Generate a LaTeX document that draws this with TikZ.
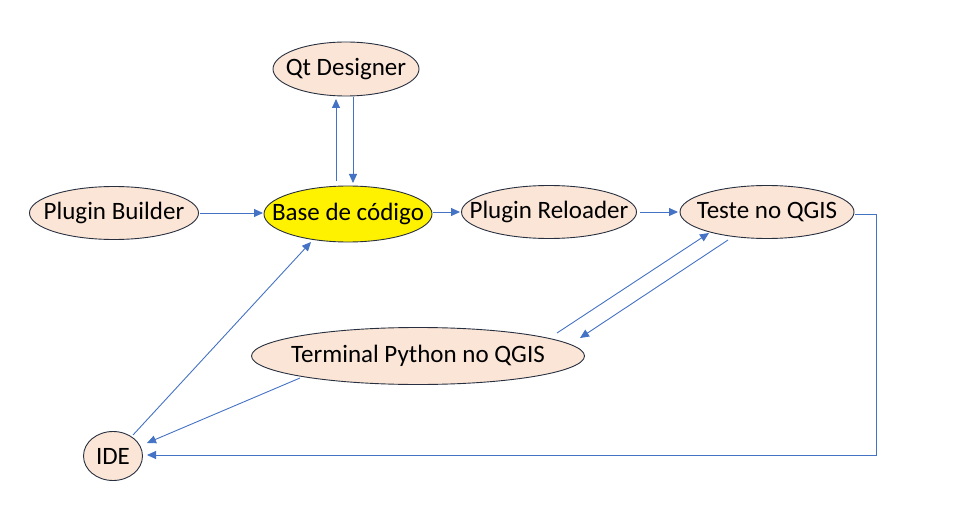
\documentclass[tikz,border=0pt]{standalone}
\usepackage{fontspec}
\setmainfont{Carlito}
\usetikzlibrary{arrows.meta,shapes.geometric}
\definecolor{peach}{RGB}{251,229,214}
\definecolor{arrowblue}{RGB}{68,114,196}
\definecolor{edge}{RGB}{40,48,64}
\tikzset{
  ell/.style={ellipse,draw=edge,line width=0.9pt,fill=peach,inner sep=0pt},
  every label/.style={font=\fontsize{25}{30}\selectfont,inner sep=0pt},
  arr/.style={draw=arrowblue,line width=0.9pt,-{Triangle[length=9pt,width=8pt]}}
}
\begin{document}
\begin{tikzpicture}[x=1pt,y=-1pt]
\useasboundingbox (0,0) rectangle (967,524);
\node[ell,minimum width=146,minimum height=54,label=center:{Qt Designer}] (qt) at (346,69) {};
\node[ell,minimum width=169,minimum height=53,label=center:{Plugin Builder}] (pb) at (114,213) {};
\node[ell,fill=yellow,minimum width=168,minimum height=56,label=center:{Base de código}] (base) at (348,214) {};
\node[ell,minimum width=175,minimum height=53,label=center:{Plugin Reloader}] (rel) at (549,212) {};
\node[ell,minimum width=174,minimum height=53,label=center:{Teste no QGIS}] (teste) at (767,212) {};
\node[ell,minimum width=333,minimum height=57,label=center:{Terminal Python no QGIS}] (term) at (418,356) {};
\node[ell,minimum width=59,minimum height=49,label=center:{IDE}] (ide) at (113,456) {};
\coordinate (corner) at (876,214);
\draw[arr] ([shift={(86,0)}]pb.center) -- ([shift={(-85,-1)}]base.center);
\draw[arr] ([shift={(-12,-33)}]base.center) -- ([shift={(-10,30)}]qt.center);
\draw[arr] ([shift={(7,28)}]qt.center) -- ([shift={(5,-31)}]base.center);
\draw[arr] ([shift={(85,-2)}]base.center) -- ([shift={(-89,0)}]rel.center);
\draw[arr] ([shift={(91,0)}]rel.center) -- ([shift={(-89,0)}]teste.center);
\draw[arr] ([shift={(88,2)}]teste.center) -- (corner) |- ([shift={(34,-1)}]ide.center);
\draw[arr] ([shift={(-39,28)}]teste.center) -- ([shift={(162,-18)}]term.center);
\draw[arr] ([shift={(139,-23)}]term.center) -- ([shift={(-58,21)}]teste.center);
\draw[arr] ([shift={(-118,22)}]term.center) -- ([shift={(34,-13)}]ide.center);
\draw[arr] ([shift={(20,-21)}]ide.center) -- ([shift={(-37,28)}]base.center);
\end{tikzpicture}
\end{document}
